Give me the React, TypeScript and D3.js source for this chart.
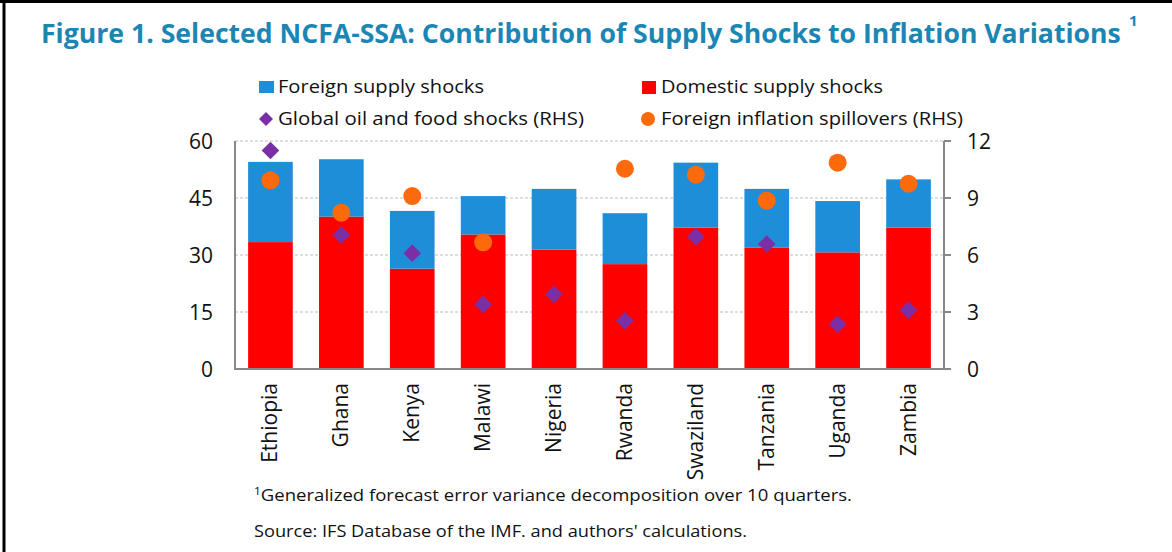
import React, { useLayoutEffect, useRef, useState } from "react";
import * as d3 from "d3";

const countries = ["Ethiopia", "Ghana", "Kenya", "Malawi", "Nigeria", "Rwanda", "Swaziland", "Tanzania", "Uganda", "Zambia"];
const domesticShocks = [33.4, 40.1, 26.4, 35.4, 31.4, 27.6, 37.2, 31.9, 30.7, 37.2];
const foreignShocks = [21.1, 15.1, 15.2, 10.1, 16.0, 13.4, 17.1, 15.5, 13.5, 12.7];
const globalOilFood = [11.5, 7.05, 6.09, 3.4, 3.93, 2.54, 6.96, 6.58, 2.35, 3.1];
const foreignSpillovers: (number | null)[] = [9.93, 8.23, 9.1, 6.67, null, 10.54, 10.23, 8.86, 10.86, 9.75];
const leftTicks = [0, 15, 30, 45, 60];
const rightTicks = [0, 3, 6, 9, 12];

const W = 1172, H = 552;
const plot = { left: 235, right: 944, top: 141, bottom: 369 };
const BLUE = "#1f8ed8", RED = "#ff0000", PURPLE = "#7b2fa6", ORANGE = "#fd6a0c";
const TITLE = "#1b86b4";
const FONT = "'Open Sans', 'Noto Sans', sans-serif";
const TITLE_TEXT = "Figure 1. Selected NCFA-SSA: Contribution of Supply Shocks to Inflation Variations";

export default function App() {
  const titleRef = useRef<SVGTextElement>(null);
  const [titleScale, setTitleScale] = useState(0.85);
  useLayoutEffect(() => {
    if (titleRef.current) {
      const len = titleRef.current.getComputedTextLength();
      if (len > 0) setTitleScale(1080 / len);
    }
  }, []);

  const x = d3.scaleBand<string>().domain(countries).range([plot.left, plot.right]).paddingInner(0.37).paddingOuter(0.185);
  const yL = d3.scaleLinear().domain([0, 60]).range([plot.bottom, plot.top]);
  const yR = d3.scaleLinear().domain([0, 12]).range([plot.bottom, plot.top]);
  const dHalf = 8.8;
  const diamondPath = `M0,${-dHalf}L${dHalf},0L0,${dHalf}L${-dHalf},0Z`;
  const legDiamond = `M0,-7L7,0L0,7L-7,0Z`;

  return (
    <svg width={W} height={H} style={{ display: "block", position: "absolute", left: 0, top: 0 }} fontFamily={FONT}>
      <rect x={0} y={0} width={W} height={H} fill="#fff" />
      {/* border */}
      <line x1={4} y1={0} x2={4} y2={H} stroke="#000" strokeWidth={3} />
      <line x1={0} y1={1.5} x2={W} y2={1.5} stroke="#000" strokeWidth={3} />

      {/* title */}
      <g transform={`translate(41,43) scale(${titleScale},1)`}>
        <text ref={titleRef} x={0} y={0} fontSize={27} fontWeight={700} fill={TITLE}>{TITLE_TEXT}</text>
      </g>
      <text x={1129} y={26} fontSize={15} fontWeight={700} fill={TITLE}>1</text>

      {/* legend */}
      <rect x={259} y={81} width={15} height={12} fill={BLUE} />
      <text x={278} y={93} fontSize={18.5} fill="#111" textLength={206} lengthAdjust="spacingAndGlyphs">Foreign supply shocks</text>
      <rect x={642} y={81} width={14} height={13} fill={RED} />
      <text x={661} y={93} fontSize={18.5} fill="#111" textLength={222} lengthAdjust="spacingAndGlyphs">Domestic supply shocks</text>
      <path d={legDiamond} transform="translate(266,119)" fill={PURPLE} />
      <text x={278} y={125} fontSize={18.5} fill="#111" textLength={306} lengthAdjust="spacingAndGlyphs">Global oil and food shocks (RHS)</text>
      <circle cx={648} cy={119} r={7} fill={ORANGE} />
      <text x={661} y={125} fontSize={18.5} fill="#111" textLength={302} lengthAdjust="spacingAndGlyphs">Foreign inflation spillovers (RHS)</text>

      {/* gridlines */}
      {leftTicks.filter((t) => t > 0).map((t) => (
        <line key={t} x1={plot.left} x2={plot.right} y1={yL(t)} y2={yL(t)} stroke="#bdbdbd" strokeWidth={1} strokeDasharray="3,2" />
      ))}

      {/* bars */}
      {countries.map((c, i) => (
        <g key={c}>
          <rect x={x(c)} y={yL(domesticShocks[i])} width={x.bandwidth()} height={yL(0) - yL(domesticShocks[i])} fill={RED} />
          <rect x={x(c)} y={yL(domesticShocks[i] + foreignShocks[i])} width={x.bandwidth()} height={yL(domesticShocks[i]) - yL(domesticShocks[i] + foreignShocks[i])} fill={BLUE} />
        </g>
      ))}

      {/* markers */}
      {countries.map((c, i) => {
        const cx = (x(c) as number) + x.bandwidth() / 2;
        const s = foreignSpillovers[i];
        return (
          <g key={c + "m"}>
            <path d={diamondPath} transform={`translate(${cx},${yR(globalOilFood[i])})`} fill={PURPLE} />
            {s !== null && <circle cx={cx} cy={yR(s)} r={9} fill={ORANGE} />}
          </g>
        );
      })}

      {/* axes */}
      <line x1={plot.left} x2={plot.left} y1={plot.top} y2={plot.bottom + 1} stroke="#888" strokeWidth={2} />
      <line x1={plot.right} x2={plot.right} y1={plot.top} y2={plot.bottom + 1} stroke="#888" strokeWidth={2} />
      <line x1={plot.left - 1} x2={plot.right + 7} y1={plot.bottom} y2={plot.bottom} stroke="#888" strokeWidth={2} />
      {rightTicks.map((t) => (
        <line key={"rt" + t} x1={plot.right} x2={plot.right + 7} y1={yR(t)} y2={yR(t)} stroke="#888" strokeWidth={2} />
      ))}
      {leftTicks.map((t) => (
        <text key={"lt" + t} x={213} y={yL(t)} dy="0.36em" textAnchor="end" fontSize={21} fill="#111">{t}</text>
      ))}
      {rightTicks.map((t) => (
        <text key={"rl" + t} x={967} y={yR(t)} dy="0.36em" textAnchor="start" fontSize={21} fill="#111">{t}</text>
      ))}

      {/* category labels */}
      {countries.map((c) => {
        const cx = (x(c) as number) + x.bandwidth() / 2;
        return (
          <text key={c + "l"} transform={`translate(${cx + 7},383) rotate(-90)`} textAnchor="end" fontSize={21} fill="#111">{c}</text>
        );
      })}

      {/* footnotes */}
      <text x={254} y={501} fontSize={17} fill="#111" textLength={598} lengthAdjust="spacingAndGlyphs">
        <tspan fontSize={11} dy={-6}>1</tspan><tspan dy={6}>Generalized forecast error variance decomposition over 10 quarters.</tspan>
      </text>
      <text x={254} y={537} fontSize={17} fill="#111" textLength={493} lengthAdjust="spacingAndGlyphs">
        Source: IFS Database of the IMF.  and authors' calculations.
      </text>
    </svg>
  );
}
